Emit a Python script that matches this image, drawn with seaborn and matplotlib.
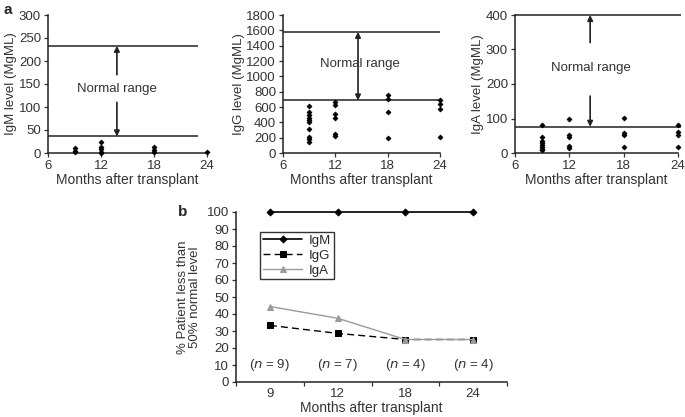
import matplotlib
matplotlib.use("Agg")
import matplotlib.pyplot as plt
import numpy as np
import pandas as pd
import seaborn as sns

# panel a data: serum levels per patient at each visit
igm_months = [9, 9, 9, 12, 12, 12, 12, 12, 18, 18, 18, 24]
igm_values = [10, 5, 2, 25, 12, 8, 3, 1, 12, 7, 2, 2]
igm_range = [36, 233]

igg_months = [9] * 10 + [12] * 6 + [18] * 4 + [24] * 4
igg_values = [615, 540, 490, 460, 430, 410, 310, 210, 185, 140,
              660, 620, 510, 460, 250, 220,
              760, 700, 540, 190,
              690, 640, 580, 210]
igg_range = [685, 1580]

iga_months = [9] * 8 + [12] * 5 + [18] * 4 + [24] * 4
iga_values = [80, 45, 36, 30, 24, 18, 13, 8,
              100, 52, 46, 20, 15,
              102, 57, 52, 18,
              80, 60, 52, 18]
iga_range = [76, 400]

# panel b data
months_b = ["9", "12", "18", "24"]
pct_igm = [100, 100, 100, 100]
pct_igg = [33.3, 28.6, 25, 25]
pct_iga = [44.4, 37.5, 25, 25]
n_labels = [9, 7, 4, 4]

sns.set_style("ticks")
plt.rcParams["font.family"] = ["Liberation Sans", "DejaVu Sans"]
plt.rcParams["font.size"] = 9.5

W, H = 685, 417
fig = plt.figure(figsize=(W / 100, H / 100), dpi=100)


def px(l, t, r, b):
    return [l / W, 1 - b / H, (r - l) / W, (b - t) / H]


def style_axes(ax):
    for s in ["left", "bottom"]:
        ax.spines[s].set_color("#222222")
        ax.spines[s].set_linewidth(1.1)
    sns.despine(ax=ax)


def panel_a(rect, months, values, rng, ymax, ystep, label, arrow_x, up, down,
            text_x, text_y, line_end=23.6, joined=False):
    ax = fig.add_axes(px(*rect))
    sns.scatterplot(x=months, y=values, ax=ax, marker="D", s=6, color="black",
                    edgecolor="black", linewidth=0.6, zorder=3, clip_on=False)
    for v in rng:
        ax.hlines(v, 6, line_end, color="#222222", lw=1.1, clip_on=False)
    if joined:
        ax.annotate("", xy=(arrow_x, rng[1]), xytext=(arrow_x, rng[0]),
                    arrowprops=dict(arrowstyle="<|-|>", color="#222222", lw=1.2,
                                    mutation_scale=8, shrinkA=0, shrinkB=0))
    else:
        ax.annotate("", xy=(arrow_x, rng[1]), xytext=(arrow_x, up),
                    arrowprops=dict(arrowstyle="-|>", color="#222222", lw=1.2,
                                    mutation_scale=8, shrinkA=0, shrinkB=0))
        ax.annotate("", xy=(arrow_x, rng[0]), xytext=(arrow_x, down),
                    arrowprops=dict(arrowstyle="-|>", color="#222222", lw=1.2,
                                    mutation_scale=8, shrinkA=0, shrinkB=0))
    ax.text(text_x, text_y, "Normal range", ha="center", va="center", fontsize=9.5,
            color="#333333", zorder=4)
    ax.set_xlim(6, 24)
    ax.set_ylim(0, ymax)
    ax.set_xticks([6, 12, 18, 24])
    ax.set_yticks(np.arange(0, ymax + 1, ystep))
    ax.set_xlabel("Months after transplant", fontsize=10, color="#333333", labelpad=1)
    ax.set_ylabel(label, fontsize=9.5, color="#333333", labelpad=1)
    ax.tick_params(length=3, width=0.9, pad=2, colors="#333333", labelsize=9.5)
    style_axes(ax)
    return ax


panel_a((48, 15, 207, 153), igm_months, igm_values, igm_range, 300, 50,
        "IgM level (MgML)", 13.8, 170, 110, 13.8, 140, line_end=23.0)
panel_a((283, 15, 440, 153), igg_months, igg_values, igg_range, 1800, 200,
        "IgG level (MgML)", 14.6, 1300, 950, 14.8, 1160, line_end=24.0, joined=True)
panel_a((515, 15, 678, 153), iga_months, iga_values, iga_range, 400, 100,
        "IgA level (MgML)", 14.3, 320, 165, 14.4, 246, line_end=24.3)

fig.text(3 / W, 1 - 10 / H, "a", fontsize=11, fontweight="bold", va="center")
fig.text(178 / W, 1 - 212 / H, "b", fontsize=11, fontweight="bold", va="center")

# panel b
axb = fig.add_axes(px(236, 212, 507, 382))
dfb = pd.DataFrame({"month": months_b * 3,
                    "pct": pct_igm + pct_igg + pct_iga,
                    "ig": ["IgM"] * 4 + ["IgG"] * 4 + ["IgA"] * 4})
styles = {"IgM": dict(color="black", marker="D", ls="-", ms=3.5, lw=1.2),
          "IgG": dict(color="black", marker="s", ls=(0, (5, 3)), ms=4.5, lw=1.0),
          "IgA": dict(color="#9a9a9a", marker="^", ls="-", ms=5, lw=1.0)}
for name in ["IgM", "IgG", "IgA"]:
    d = dfb[dfb["ig"] == name]
    st = styles[name]
    sns.lineplot(data=d, x="month", y="pct", ax=axb, sort=False, label=name,
                 color=st["color"], marker=st["marker"], markersize=st["ms"],
                 markeredgecolor=st["color"], linestyle=st["ls"], linewidth=st["lw"],
                 clip_on=False)
for i, n in enumerate(n_labels):
    axb.text(i, 10, r"($\it{n}$ = %d)" % n, ha="center", va="center", fontsize=9.5,
             color="#333333")
axb.set_xlim(-0.5, 3.5)
axb.set_ylim(0, 100)
axb.set_yticks(range(0, 101, 10))
axb.set_xticks(range(len(months_b)))
axb.set_xticks(np.arange(-0.5, 3.6, 1), minor=True)
axb.tick_params(axis="x", which="major", length=0, pad=4)
axb.tick_params(axis="x", which="minor", length=3, width=0.9, colors="#333333")
axb.tick_params(axis="y", length=3, width=0.9, pad=2)
axb.tick_params(colors="#333333", labelsize=9.5)
axb.set_xlabel("Months after transplant", fontsize=10, color="#333333", labelpad=1)
axb.set_ylabel("% Patient less than\n50% normal level", fontsize=9.5, color="#333333",
               linespacing=1.0, labelpad=4)
style_axes(axb)
leg = axb.legend(loc="upper left", bbox_to_anchor=(0.089, 0.882), borderaxespad=0,
                 frameon=True, fancybox=False, edgecolor="black", fontsize=9.5,
                 handlelength=3.0, borderpad=0.2, labelspacing=0.2, handletextpad=0.5)
leg.get_frame().set_linewidth(1.0)

fig.savefig("out.png", dpi=100)
